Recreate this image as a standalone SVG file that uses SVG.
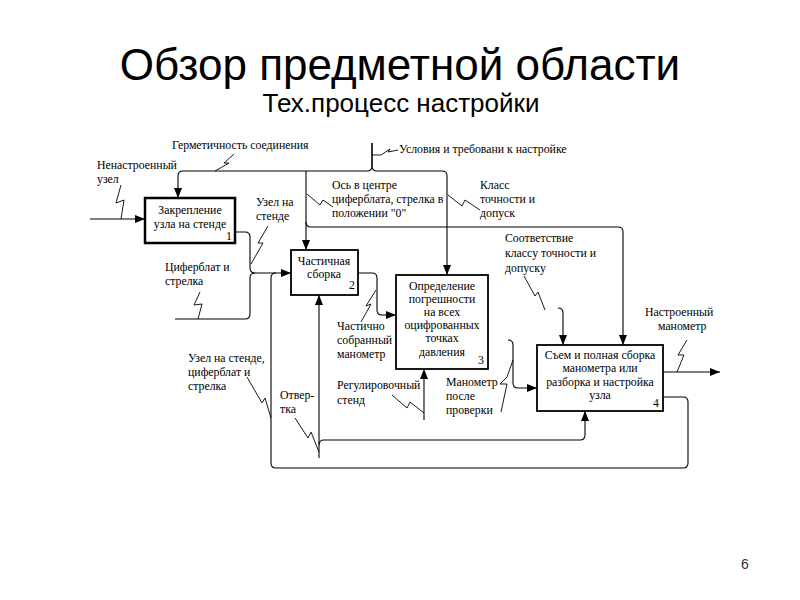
<svg xmlns="http://www.w3.org/2000/svg" width="800" height="600" viewBox="0 0 800 600">
<defs>
<marker id="ar" viewBox="0 0 10 8" refX="10" refY="4" markerWidth="10" markerHeight="8" markerUnits="userSpaceOnUse" orient="auto">
<path d="M0,0 L10,4 L0,8 Z" fill="#000"/>
</marker>
</defs>
<style>
.t{font-family:"Liberation Serif","Times New Roman",serif;font-size:11.8px;fill:#000}
.c{text-anchor:middle}
.box{fill:#fff;stroke:#000;stroke-width:1.8}
.ln{fill:none;stroke:#000;stroke-width:1.1}
.sq{fill:none;stroke:#000;stroke-width:0.9}
.a{marker-end:url(#ar)}
</style>
<rect width="800" height="600" fill="#fff"/>
<text x="400" y="80" text-anchor="middle" style="font-family:'Liberation Sans',Arial,sans-serif;font-size:44px">Обзор предметной области</text>
<text x="401" y="112" text-anchor="middle" style="font-family:'Liberation Sans',Arial,sans-serif;font-size:26px">Тех.процесс настройки</text>
<text x="745" y="569" text-anchor="middle" style="font-family:'Liberation Sans',Arial,sans-serif;font-size:14px;fill:#333">6</text>

<g id="connectors">
<path class="ln a" d="M372,143 V166 Q372,171 367,171 H183 Q178,171 178,176 V198"/>
<path class="ln a" d="M372,143 V166 Q372,171 377,171 H442 Q447,171 447,176 V275"/>
<path class="ln a" d="M306,171 V250"/>
<path class="ln a" d="M306,222 Q306,227 311,227 H618 Q623,227 623,232 V345"/>
<path class="ln a" d="M90,219 H145"/>
<path class="ln a" d="M235,232 H245 Q250,232 250,237 V268 Q250,273 255,273 H291"/>
<path class="ln" d="M175,319 H245 Q250,319 250,314 V278 Q250,273 255,273"/>
<path class="ln" d="M663,397 H683 Q688,397 688,402 V463 Q688,468 683,468 H276 Q271,468 271,463 V278 Q271,273 276,273"/>
<path class="ln a" d="M358,273 H372 Q377,273 377,278 V310 Q377,315 382,315 H396"/>
<path class="ln a" d="M319,458 V295"/>
<path class="ln a" d="M319,445 Q319,440 324,440 H580 Q585,440 585,435 V411"/>
<path class="ln a" d="M424,420 V369"/>
<path class="ln a" d="M508,340 Q513,340 513,345 V383 Q513,388 518,388 H537"/>
<path class="ln a" d="M558,308 Q563,308 563,313 V345"/>
<path class="ln a" d="M663,372 H720"/>
<polyline class="sq" points="234,154 224,163 229,163 215,171"/>
<polyline class="sq" points="372,155 381,155 390,149 388,152 398,150"/>
<polyline class="sq" points="121,185 116,203 124,200 121,219"/>
<polyline class="sq" points="268,226 258,243 263,243 251,264"/>
<polyline class="sq" points="200,292 194,305 202,304 198,319"/>
<polyline class="sq" points="307,194 320,205 323,200 333,207"/>
<polyline class="sq" points="448,195 462,206 465,200 480,210"/>
<polyline class="sq" points="376,290 366,306 371,304 361,322"/>
<polyline class="sq" points="524,276 535,296 538,292 545,310"/>
<polyline class="sq" points="687,340 678,355 684,355 677,372"/>
<polyline class="sq" points="513,360 507,377 500,384 507,384 501,412"/>
<polyline class="sq" points="392,395 407,408 410,402 424,413"/>
<polyline class="sq" points="247,377 262,403 265,398 271,418"/>
<polyline class="sq" points="295,418 308,438 311,432 319,452"/>
</g>

<g id="node1">
<rect class="box" x="145" y="198" width="90" height="45" style="stroke-width:2.5"/>
<text class="t c" x="190" y="214">Закрепление</text>
<text class="t c" x="190" y="228">узла на стенде</text>
<text class="t" x="226" y="240">1</text>
</g>
<g id="node2">
<rect class="box" x="291" y="250" width="67" height="45"/>
<text class="t c" x="324" y="265">Частичная</text>
<text class="t c" x="324" y="278">сборка</text>
<text class="t" x="349" y="289">2</text>
</g>
<g id="node3">
<rect class="box" x="396" y="275" width="92" height="94"/>
<text class="t c" x="442" y="290">Определение</text>
<text class="t c" x="442" y="303">погрешности</text>
<text class="t c" x="442" y="316">на всех</text>
<text class="t c" x="442" y="329">оцифрованных</text>
<text class="t c" x="442" y="342">точках</text>
<text class="t c" x="442" y="356">давления</text>
<text class="t" x="478" y="364">3</text>
</g>
<g id="node4">
<rect class="box" x="537" y="345" width="126" height="66"/>
<text class="t c" x="600" y="359">Съем и полная сборка</text>
<text class="t c" x="600" y="372">манометра или</text>
<text class="t c" x="600" y="386">разборка и настройка</text>
<text class="t c" x="600" y="399">узла</text>
<text class="t" x="653" y="407">4</text>
</g>

<g id="labels">
<text class="t" x="172" y="149">Герметичность соединения</text>
<text class="t" x="399" y="153">Условия и требовани к настройке</text>
<text class="t" x="97" y="169">Ненастроенный</text>
<text class="t" x="97" y="183">узел</text>
<text class="t" x="256" y="206">Узел на</text>
<text class="t" x="256" y="220">стенде</text>
<text class="t" x="332" y="189">Ось в центре</text>
<text class="t" x="332" y="203">циферблата, стрелка в</text>
<text class="t" x="332" y="217">положении "0"</text>
<text class="t" x="480" y="189">Класс</text>
<text class="t" x="480" y="203">точности и</text>
<text class="t" x="480" y="217">допуск</text>
<text class="t" x="165" y="271">Циферблат и</text>
<text class="t" x="165" y="285">стрелка</text>
<text class="t" x="505" y="242">Соответствие</text>
<text class="t" x="505" y="257">классу точности и</text>
<text class="t" x="505" y="272">допуску</text>
<text class="t" x="337" y="330">Частично</text>
<text class="t" x="337" y="344">собранный</text>
<text class="t" x="337" y="358">манометр</text>
<text class="t" x="645" y="316">Настроенный</text>
<text class="t" x="658" y="330">манометр</text>
<text class="t" x="188" y="362">Узел на стенде,</text>
<text class="t" x="188" y="376">циферблат и</text>
<text class="t" x="188" y="390">стрелка</text>
<text class="t" x="337" y="389">Регулировочный</text>
<text class="t" x="337" y="404">стенд</text>
<text class="t" x="446" y="386">Манометр</text>
<text class="t" x="446" y="400">после</text>
<text class="t" x="446" y="414">проверки</text>
<text class="t" x="280" y="399">Отвер-</text>
<text class="t" x="280" y="413">тка</text>
</g>
</svg>
